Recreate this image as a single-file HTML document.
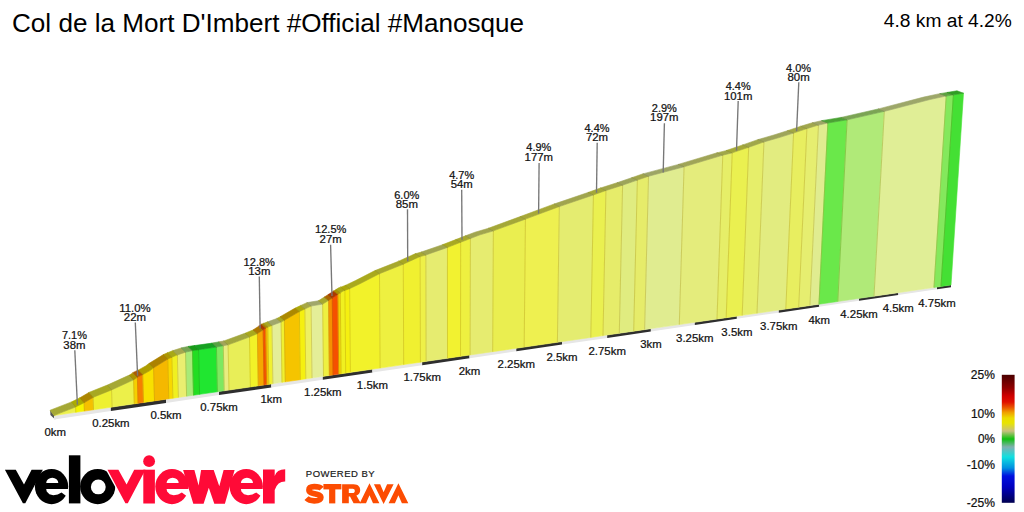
<!DOCTYPE html>
<html><head><meta charset="utf-8"><style>
html,body{margin:0;padding:0;background:#fff;}
body{width:1024px;height:512px;overflow:hidden;position:relative;}
svg{position:absolute;left:0;top:0;font-family:"Liberation Sans",sans-serif;}
</style></head><body>
<svg width="1024" height="512" viewBox="0 0 1024 512">
<defs><linearGradient id="lg" x1="0" y1="374.8" x2="0" y2="502.8" gradientUnits="userSpaceOnUse">
<stop offset="0.0000" stop-color="#4a0000"/>
<stop offset="0.0484" stop-color="#6a0000"/>
<stop offset="0.1031" stop-color="#900000"/>
<stop offset="0.1656" stop-color="#d00000"/>
<stop offset="0.2125" stop-color="#e01000"/>
<stop offset="0.2516" stop-color="#e85000"/>
<stop offset="0.2945" stop-color="#f0a000"/>
<stop offset="0.3375" stop-color="#ecdc00"/>
<stop offset="0.3766" stop-color="#e8e400"/>
<stop offset="0.4391" stop-color="#c8c080"/>
<stop offset="0.5016" stop-color="#10c010"/>
<stop offset="0.5641" stop-color="#80b0b0"/>
<stop offset="0.6422" stop-color="#10e0e0"/>
<stop offset="0.7281" stop-color="#0090e0"/>
<stop offset="0.7906" stop-color="#0010e0"/>
<stop offset="0.8766" stop-color="#0000c0"/>
<stop offset="1.0000" stop-color="#000050"/>
</linearGradient></defs>
<text x="12" y="32" font-size="26.1" fill="#000">Col de la Mort D'Imbert #Official #Manosque</text>
<text x="1011.8" y="27.2" font-size="19.2" fill="#000" text-anchor="end">4.8 km at 4.2%</text>
<polygon points="50.20,410.10 54.20,415.50 55.20,419.60 50.40,415.00" fill="#555"/>
<polygon points="54.00,415.50 110.90,407.22 110.90,411.02 54.00,419.40" fill="#e6e6e6"/>
<polygon points="110.90,407.22 166.00,399.20 166.00,402.90 110.90,411.02" fill="#2e2e2e"/>
<polygon points="166.00,399.20 219.00,391.49 219.00,395.10 166.00,402.90" fill="#e6e6e6"/>
<polygon points="219.00,391.49 271.30,383.88 271.30,387.40 219.00,395.10" fill="#2e2e2e"/>
<polygon points="271.30,383.88 322.80,376.39 322.80,379.81 271.30,387.40" fill="#e6e6e6"/>
<polygon points="322.80,376.39 372.40,369.17 372.40,372.50 322.80,379.81" fill="#2e2e2e"/>
<polygon points="372.40,369.17 422.20,361.93 422.20,365.17 372.40,372.50" fill="#e6e6e6"/>
<polygon points="422.20,361.93 469.50,355.04 469.50,358.20 422.20,365.17" fill="#2e2e2e"/>
<polygon points="469.50,355.04 516.30,348.24 516.30,351.31 469.50,358.20" fill="#e6e6e6"/>
<polygon points="516.30,348.24 562.00,341.59 562.00,344.58 516.30,351.31" fill="#2e2e2e"/>
<polygon points="562.00,341.59 607.20,335.01 607.20,337.92 562.00,344.58" fill="#e6e6e6"/>
<polygon points="607.20,335.01 650.90,328.65 650.90,331.49 607.20,337.92" fill="#2e2e2e"/>
<polygon points="650.90,328.65 694.80,322.26 694.80,325.02 650.90,331.49" fill="#e6e6e6"/>
<polygon points="694.80,322.26 736.90,316.14 736.90,318.82 694.80,325.02" fill="#2e2e2e"/>
<polygon points="736.90,316.14 778.80,310.04 778.80,312.65 736.90,318.82" fill="#e6e6e6"/>
<polygon points="778.80,310.04 819.20,304.16 819.20,306.70 778.80,312.65" fill="#2e2e2e"/>
<polygon points="819.20,304.16 859.00,298.37 859.00,300.84 819.20,306.70" fill="#e6e6e6"/>
<polygon points="859.00,298.37 898.30,292.65 898.30,295.05 859.00,300.84" fill="#2e2e2e"/>
<polygon points="898.30,292.65 937.00,287.02 937.00,289.35 898.30,295.05" fill="#e6e6e6"/>
<polygon points="937.00,287.02 951.00,284.99 951.00,287.29 937.00,289.35" fill="#2e2e2e"/>
<polygon points="54.00,415.50 75.80,412.33 75.62,406.97 60.00,413.10 54.00,415.50" fill="#ecf04c" stroke="#ecf04c" stroke-width="0.6" stroke-linejoin="round"/>
<polygon points="75.80,412.33 84.40,411.08 84.13,402.74 75.80,406.90 75.62,406.97" fill="#f5f500" stroke="#f5f500" stroke-width="0.6" stroke-linejoin="round"/>
<polygon points="84.40,411.08 93.50,409.75 93.10,397.43 84.40,402.60 84.13,402.74" fill="#f5c000" stroke="#f5c000" stroke-width="0.6" stroke-linejoin="round"/>
<polygon points="93.50,409.75 112.10,407.05 111.58,389.91 93.50,397.20 93.10,397.43" fill="#eef030" stroke="#eef030" stroke-width="0.6" stroke-linejoin="round"/>
<polygon points="112.10,407.05 134.30,403.82 133.62,379.81 112.10,389.70 111.58,389.91" fill="#ecf04a" stroke="#ecf04a" stroke-width="0.6" stroke-linejoin="round"/>
<polygon points="134.30,403.82 138.10,403.26 137.37,377.32 134.30,379.50 133.62,379.81" fill="#f5d000" stroke="#f5d000" stroke-width="0.6" stroke-linejoin="round"/>
<polygon points="138.10,403.26 143.50,402.48 142.73,374.62 138.10,376.80 137.37,377.32" fill="#f58000" stroke="#f58000" stroke-width="0.6" stroke-linejoin="round"/>
<polygon points="143.50,402.48 154.50,400.88 153.62,367.86 150.00,370.60 143.40,374.30 142.73,374.62" fill="#f8e000" stroke="#f8e000" stroke-width="0.6" stroke-linejoin="round"/>
<polygon points="154.50,400.88 168.80,398.80 167.79,359.03 153.70,367.80 153.62,367.86" fill="#f5b800" stroke="#f5b800" stroke-width="0.6" stroke-linejoin="round"/>
<polygon points="168.80,398.80 172.90,398.20 171.88,357.22 168.00,358.90 167.79,359.03" fill="#f8d800" stroke="#f8d800" stroke-width="0.6" stroke-linejoin="round"/>
<polygon points="172.90,398.20 178.40,397.40 177.36,354.94 176.30,355.30 171.88,357.22" fill="#f0f020" stroke="#f0f020" stroke-width="0.6" stroke-linejoin="round"/>
<polygon points="178.40,397.40 186.60,396.21 185.56,352.18 177.36,354.94" fill="#eaee70" stroke="#eaee70" stroke-width="0.6" stroke-linejoin="round"/>
<polygon points="186.60,396.21 193.50,395.20 192.47,350.65 185.80,352.10 185.56,352.18" fill="#a8ea78" stroke="#a8ea78" stroke-width="0.6" stroke-linejoin="round"/>
<polygon points="193.50,395.20 199.60,394.32 198.60,349.73 192.70,350.60 192.47,350.65" fill="#22dd22" stroke="#22dd22" stroke-width="0.6" stroke-linejoin="round"/>
<polygon points="199.60,394.32 217.40,391.73 216.46,347.02 215.00,347.30 198.80,349.70 198.60,349.73" fill="#20e630" stroke="#20e630" stroke-width="0.6" stroke-linejoin="round"/>
<polygon points="217.40,391.73 224.20,390.74 223.29,345.71 222.80,345.80 216.46,347.02" fill="#7ee860" stroke="#7ee860" stroke-width="0.6" stroke-linejoin="round"/>
<polygon points="224.20,390.74 229.00,390.04 228.10,344.84 223.29,345.71" fill="#e8ec80" stroke="#e8ec80" stroke-width="0.6" stroke-linejoin="round"/>
<polygon points="229.00,390.04 250.40,386.92 249.50,336.92 248.60,337.30 228.30,344.80 228.10,344.84" fill="#e8ee58" stroke="#e8ee58" stroke-width="0.6" stroke-linejoin="round"/>
<polygon points="250.40,386.92 258.30,385.77 257.40,333.57 257.20,333.70 249.50,336.92" fill="#f2f228" stroke="#f2f228" stroke-width="0.6" stroke-linejoin="round"/>
<polygon points="258.30,385.77 264.10,384.93 263.18,329.83 262.70,330.20 257.40,333.57" fill="#f5a800" stroke="#f5a800" stroke-width="0.6" stroke-linejoin="round"/>
<polygon points="264.10,384.93 266.60,384.57 265.66,327.90 263.18,329.83" fill="#f55000" stroke="#f55000" stroke-width="0.6" stroke-linejoin="round"/>
<polygon points="266.60,384.57 268.80,384.25 267.87,327.01 265.80,327.80 265.66,327.90" fill="#f5c000" stroke="#f5c000" stroke-width="0.6" stroke-linejoin="round"/>
<polygon points="268.80,384.25 272.90,383.65 271.97,325.46 270.00,326.20 267.87,327.01" fill="#f0f030" stroke="#f0f030" stroke-width="0.6" stroke-linejoin="round"/>
<polygon points="272.90,383.65 282.00,382.33 281.09,322.04 271.97,325.46" fill="#e4ee98" stroke="#e4ee98" stroke-width="0.6" stroke-linejoin="round"/>
<polygon points="282.00,382.33 285.30,381.85 284.39,320.28 284.00,320.50 281.20,322.00 281.09,322.04" fill="#f0f030" stroke="#f0f030" stroke-width="0.6" stroke-linejoin="round"/>
<polygon points="285.30,381.85 300.30,379.66 299.38,311.57 284.39,320.28" fill="#f5c400" stroke="#f5c400" stroke-width="0.6" stroke-linejoin="round"/>
<polygon points="300.30,379.66 305.80,378.86 304.89,308.96 299.50,311.50 299.38,311.57" fill="#f5f010" stroke="#f5f010" stroke-width="0.6" stroke-linejoin="round"/>
<polygon points="305.80,378.86 312.00,377.96 311.11,306.04 304.89,308.96" fill="#eef060" stroke="#eef060" stroke-width="0.6" stroke-linejoin="round"/>
<polygon points="312.00,377.96 323.50,376.29 322.68,304.10 311.20,306.00 311.11,306.04" fill="#e4ee98" stroke="#e4ee98" stroke-width="0.6" stroke-linejoin="round"/>
<polygon points="323.50,376.29 329.40,375.43 328.59,300.41 322.70,304.10 322.68,304.10" fill="#eef040" stroke="#eef040" stroke-width="0.6" stroke-linejoin="round"/>
<polygon points="329.40,375.43 333.10,374.89 332.29,298.01 328.60,300.40 328.59,300.41" fill="#f59000" stroke="#f59000" stroke-width="0.6" stroke-linejoin="round"/>
<polygon points="333.10,374.89 338.70,374.08 337.90,294.38 335.70,295.80 332.29,298.01" fill="#f55000" stroke="#f55000" stroke-width="0.6" stroke-linejoin="round"/>
<polygon points="338.70,374.08 341.10,373.73 340.31,292.83 337.90,294.38" fill="#f5d000" stroke="#f5d000" stroke-width="0.6" stroke-linejoin="round"/>
<polygon points="341.10,373.73 345.70,373.06 344.92,290.39 343.00,291.10 340.31,292.83" fill="#f0f020" stroke="#f0f020" stroke-width="0.6" stroke-linejoin="round"/>
<polygon points="345.70,373.06 350.40,372.37 349.65,288.63 349.40,288.75 344.92,290.39" fill="#f5f010" stroke="#f5f010" stroke-width="0.6" stroke-linejoin="round"/>
<polygon points="350.40,372.37 380.10,368.05 379.51,273.70 379.00,273.90 360.00,283.70 349.65,288.63" fill="#f2f22a" stroke="#f2f22a" stroke-width="0.6" stroke-linejoin="round"/>
<polygon points="380.10,368.05 403.70,364.62 403.28,264.15 402.50,264.50 379.51,273.70" fill="#eef040" stroke="#eef040" stroke-width="0.6" stroke-linejoin="round"/>
<polygon points="403.70,364.62 420.40,362.19 420.12,256.59 419.70,256.70 403.28,264.15" fill="#f0f030" stroke="#f0f030" stroke-width="0.6" stroke-linejoin="round"/>
<polygon points="420.40,362.19 426.10,361.36 425.87,254.97 425.20,255.20 420.12,256.59" fill="#eef048" stroke="#eef048" stroke-width="0.6" stroke-linejoin="round"/>
<polygon points="426.10,361.36 447.50,358.25 447.48,247.41 425.87,254.97" fill="#e6ec70" stroke="#e6ec70" stroke-width="0.6" stroke-linejoin="round"/>
<polygon points="447.50,358.25 460.50,356.35 460.66,242.28 447.80,247.30 447.48,247.41" fill="#f2f230" stroke="#f2f230" stroke-width="0.6" stroke-linejoin="round"/>
<polygon points="460.50,356.35 470.10,354.96 470.41,238.48 469.70,238.75 460.66,242.28" fill="#eef040" stroke="#eef040" stroke-width="0.6" stroke-linejoin="round"/>
<polygon points="470.10,354.96 492.70,351.67 493.38,230.85 492.70,231.10 480.00,234.80 470.41,238.48" fill="#e6ec70" stroke="#e6ec70" stroke-width="0.6" stroke-linejoin="round"/>
<polygon points="492.70,351.67 524.20,347.09 525.45,219.12 524.70,219.40 493.38,230.85" fill="#eaee50" stroke="#eaee50" stroke-width="0.6" stroke-linejoin="round"/>
<polygon points="524.20,347.09 557.40,342.26 559.32,206.55 558.30,206.90 525.45,219.12" fill="#eef050" stroke="#eef050" stroke-width="0.6" stroke-linejoin="round"/>
<polygon points="557.40,342.26 590.80,337.40 593.45,194.93 592.70,195.20 559.32,206.55" fill="#e4ec70" stroke="#e4ec70" stroke-width="0.6" stroke-linejoin="round"/>
<polygon points="590.80,337.40 603.00,335.62 605.93,190.49 605.90,190.50 593.45,194.93" fill="#eaf050" stroke="#eaf050" stroke-width="0.6" stroke-linejoin="round"/>
<polygon points="603.00,335.62 619.30,333.25 622.61,185.16 605.93,190.49" fill="#e6ec6a" stroke="#e6ec6a" stroke-width="0.6" stroke-linejoin="round"/>
<polygon points="619.30,333.25 633.70,331.15 637.36,180.09 623.10,185.00 622.61,185.16" fill="#e0ec80" stroke="#e0ec80" stroke-width="0.6" stroke-linejoin="round"/>
<polygon points="633.70,331.15 644.60,329.57 648.54,176.28 648.10,176.40 637.36,180.09" fill="#e6ec6a" stroke="#e6ec6a" stroke-width="0.6" stroke-linejoin="round"/>
<polygon points="644.60,329.57 679.30,324.52 684.07,166.77 683.30,167.00 648.54,176.28" fill="#e0ec90" stroke="#e0ec90" stroke-width="0.6" stroke-linejoin="round"/>
<polygon points="679.30,324.52 717.00,319.03 722.77,155.18 722.30,155.30 684.07,166.77" fill="#e4ec7c" stroke="#e4ec7c" stroke-width="0.6" stroke-linejoin="round"/>
<polygon points="717.00,319.03 726.20,317.69 732.21,152.83 731.70,153.00 722.77,155.18" fill="#e6ee68" stroke="#e6ee68" stroke-width="0.6" stroke-linejoin="round"/>
<polygon points="726.20,317.69 742.20,315.37 748.68,147.27 732.21,152.83" fill="#eaf050" stroke="#eaf050" stroke-width="0.6" stroke-linejoin="round"/>
<polygon points="742.20,315.37 757.00,313.21 763.94,141.94 763.75,142.00 748.90,147.20 748.68,147.27" fill="#e6ee6a" stroke="#e6ee6a" stroke-width="0.6" stroke-linejoin="round"/>
<polygon points="757.00,313.21 785.80,309.02 793.60,133.03 793.40,133.10 780.00,137.30 763.94,141.94" fill="#e2ec80" stroke="#e2ec80" stroke-width="0.6" stroke-linejoin="round"/>
<polygon points="785.80,309.02 798.70,307.15 806.92,128.59 793.60,133.03" fill="#e8ee60" stroke="#e8ee60" stroke-width="0.6" stroke-linejoin="round"/>
<polygon points="798.70,307.15 809.90,305.52 818.47,125.12 817.70,125.30 807.50,128.40 806.92,128.59" fill="#e6ee70" stroke="#e6ee70" stroke-width="0.6" stroke-linejoin="round"/>
<polygon points="809.90,305.52 819.00,304.19 827.83,123.00 827.80,123.00 818.47,125.12" fill="#e0ec90" stroke="#e0ec90" stroke-width="0.6" stroke-linejoin="round"/>
<polygon points="819.00,304.19 837.80,301.46 847.10,119.83 827.83,123.00" fill="#6ae84a" stroke="#6ae84a" stroke-width="0.6" stroke-linejoin="round"/>
<polygon points="837.80,301.46 874.00,296.19 884.34,111.35 847.30,119.80 847.10,119.83" fill="#b0ea78" stroke="#b0ea78" stroke-width="0.6" stroke-linejoin="round"/>
<polygon points="874.00,296.19 934.00,287.46 946.23,96.06 944.80,96.30 930.00,99.50 884.80,111.25 884.34,111.35" fill="#e0ee96" stroke="#e0ee96" stroke-width="0.6" stroke-linejoin="round"/>
<polygon points="934.00,287.46 941.00,286.44 953.42,94.87 946.23,96.06" fill="#84e85c" stroke="#84e85c" stroke-width="0.6" stroke-linejoin="round"/>
<polygon points="941.00,286.44 951.00,284.99 963.50,93.20 953.42,94.87" fill="#44e034" stroke="#44e034" stroke-width="0.6" stroke-linejoin="round"/>
<line x1="75.80" y1="412.33" x2="75.62" y2="406.97" stroke="#cec215" stroke-width="0.7"/>
<line x1="84.40" y1="411.08" x2="84.13" y2="402.74" stroke="#d3ae00" stroke-width="0.7"/>
<line x1="93.50" y1="409.75" x2="93.10" y2="397.43" stroke="#d0ad0d" stroke-width="0.7"/>
<line x1="112.10" y1="407.05" x2="111.58" y2="389.91" stroke="#ccc022" stroke-width="0.7"/>
<line x1="134.30" y1="403.82" x2="133.62" y2="379.81" stroke="#ceb314" stroke-width="0.7"/>
<line x1="138.10" y1="403.26" x2="137.37" y2="377.32" stroke="#d38600" stroke-width="0.7"/>
<line x1="143.50" y1="402.48" x2="142.73" y2="374.62" stroke="#d48d00" stroke-width="0.7"/>
<line x1="154.50" y1="400.88" x2="153.62" y2="367.86" stroke="#d4a300" stroke-width="0.7"/>
<line x1="168.80" y1="398.80" x2="167.79" y2="359.03" stroke="#d4a000" stroke-width="0.7"/>
<line x1="172.90" y1="398.20" x2="171.88" y2="357.22" stroke="#d2b609" stroke-width="0.7"/>
<line x1="178.40" y1="397.40" x2="177.36" y2="354.94" stroke="#ccbf28" stroke-width="0.7"/>
<line x1="186.60" y1="396.21" x2="185.56" y2="352.18" stroke="#adbd40" stroke-width="0.7"/>
<line x1="193.50" y1="395.20" x2="192.47" y2="350.65" stroke="#57b62a" stroke-width="0.7"/>
<line x1="199.60" y1="394.32" x2="198.60" y2="349.73" stroke="#1cb517" stroke-width="0.7"/>
<line x1="217.40" y1="391.73" x2="216.46" y2="347.02" stroke="#44b928" stroke-width="0.7"/>
<line x1="224.20" y1="390.74" x2="223.29" y2="345.71" stroke="#9abb3e" stroke-width="0.7"/>
<line x1="229.00" y1="390.04" x2="228.10" y2="344.84" stroke="#c8be3b" stroke-width="0.7"/>
<line x1="250.40" y1="386.92" x2="249.50" y2="336.92" stroke="#ccc023" stroke-width="0.7"/>
<line x1="258.30" y1="385.77" x2="257.40" y2="333.57" stroke="#d2a40b" stroke-width="0.7"/>
<line x1="264.10" y1="384.93" x2="263.18" y2="329.83" stroke="#d36300" stroke-width="0.7"/>
<line x1="266.60" y1="384.57" x2="265.66" y2="327.90" stroke="#d36d00" stroke-width="0.7"/>
<line x1="268.80" y1="384.25" x2="267.87" y2="327.01" stroke="#d0ad0d" stroke-width="0.7"/>
<line x1="272.90" y1="383.65" x2="271.97" y2="325.46" stroke="#c9bf37" stroke-width="0.7"/>
<line x1="282.00" y1="382.33" x2="281.09" y2="322.04" stroke="#c9bf37" stroke-width="0.7"/>
<line x1="285.30" y1="381.85" x2="284.39" y2="320.28" stroke="#d0ae0d" stroke-width="0.7"/>
<line x1="300.30" y1="379.66" x2="299.38" y2="311.57" stroke="#d3ae04" stroke-width="0.7"/>
<line x1="305.80" y1="378.86" x2="304.89" y2="308.96" stroke="#d0c01f" stroke-width="0.7"/>
<line x1="312.00" y1="377.96" x2="311.11" y2="306.04" stroke="#c8bf44" stroke-width="0.7"/>
<line x1="323.50" y1="376.29" x2="322.68" y2="304.10" stroke="#c8bf3b" stroke-width="0.7"/>
<line x1="329.40" y1="375.43" x2="328.59" y2="300.41" stroke="#d09a12" stroke-width="0.7"/>
<line x1="333.10" y1="374.89" x2="332.29" y2="298.01" stroke="#d35a00" stroke-width="0.7"/>
<line x1="338.70" y1="374.08" x2="337.90" y2="294.38" stroke="#d37300" stroke-width="0.7"/>
<line x1="341.10" y1="373.73" x2="340.31" y2="292.83" stroke="#d0b309" stroke-width="0.7"/>
<line x1="345.70" y1="373.06" x2="344.92" y2="290.39" stroke="#d0c00d" stroke-width="0.7"/>
<line x1="350.40" y1="372.37" x2="349.65" y2="288.63" stroke="#d2c110" stroke-width="0.7"/>
<line x1="380.10" y1="368.05" x2="379.51" y2="273.70" stroke="#cec11d" stroke-width="0.7"/>
<line x1="403.70" y1="364.62" x2="403.28" y2="264.15" stroke="#cec01f" stroke-width="0.7"/>
<line x1="420.40" y1="362.19" x2="420.12" y2="256.59" stroke="#cec021" stroke-width="0.7"/>
<line x1="426.10" y1="361.36" x2="425.87" y2="254.97" stroke="#c9be33" stroke-width="0.7"/>
<line x1="447.50" y1="358.25" x2="447.48" y2="247.41" stroke="#cbbf2c" stroke-width="0.7"/>
<line x1="460.50" y1="356.35" x2="460.66" y2="242.28" stroke="#cec11f" stroke-width="0.7"/>
<line x1="470.10" y1="354.96" x2="470.41" y2="238.48" stroke="#c9be30" stroke-width="0.7"/>
<line x1="492.70" y1="351.67" x2="493.38" y2="230.85" stroke="#c8be35" stroke-width="0.7"/>
<line x1="524.20" y1="347.09" x2="525.45" y2="219.12" stroke="#cbbf2c" stroke-width="0.7"/>
<line x1="557.40" y1="342.26" x2="559.32" y2="206.55" stroke="#c8be35" stroke-width="0.7"/>
<line x1="590.80" y1="337.40" x2="593.45" y2="194.93" stroke="#c7be35" stroke-width="0.7"/>
<line x1="603.00" y1="335.62" x2="605.93" y2="190.49" stroke="#c8be33" stroke-width="0.7"/>
<line x1="619.30" y1="333.25" x2="622.61" y2="185.16" stroke="#c3bd40" stroke-width="0.7"/>
<line x1="633.70" y1="331.15" x2="637.36" y2="180.09" stroke="#c3bd40" stroke-width="0.7"/>
<line x1="644.60" y1="329.57" x2="648.54" y2="176.28" stroke="#c3bd45" stroke-width="0.7"/>
<line x1="679.30" y1="324.52" x2="684.07" y2="166.77" stroke="#c2bd4a" stroke-width="0.7"/>
<line x1="717.00" y1="319.03" x2="722.77" y2="155.18" stroke="#c5be3f" stroke-width="0.7"/>
<line x1="726.20" y1="317.69" x2="732.21" y2="152.83" stroke="#c8bf33" stroke-width="0.7"/>
<line x1="742.20" y1="315.37" x2="748.68" y2="147.27" stroke="#c8bf33" stroke-width="0.7"/>
<line x1="757.00" y1="313.21" x2="763.94" y2="141.94" stroke="#c4be40" stroke-width="0.7"/>
<line x1="785.80" y1="309.02" x2="793.60" y2="133.03" stroke="#c5be3e" stroke-width="0.7"/>
<line x1="798.70" y1="307.15" x2="806.92" y2="128.59" stroke="#c7be39" stroke-width="0.7"/>
<line x1="809.90" y1="305.52" x2="818.47" y2="125.12" stroke="#c3be46" stroke-width="0.7"/>
<line x1="819.00" y1="304.19" x2="827.83" y2="123.00" stroke="#8ebb3c" stroke-width="0.7"/>
<line x1="837.80" y1="301.46" x2="847.10" y2="119.83" stroke="#79ba35" stroke-width="0.7"/>
<line x1="874.00" y1="296.19" x2="884.34" y2="111.35" stroke="#acbd4a" stroke-width="0.7"/>
<line x1="934.00" y1="287.46" x2="946.23" y2="96.06" stroke="#99bc43" stroke-width="0.7"/>
<line x1="941.00" y1="286.44" x2="953.42" y2="94.87" stroke="#56b628" stroke-width="0.7"/>
<polygon points="54.00,415.50 60.00,413.10 75.62,406.97 71.53,401.91 55.98,407.94 50.00,410.30" fill="#a5a835" stroke="#a5a835" stroke-width="0.6" stroke-linejoin="round"/>
<polygon points="75.62,406.97 75.80,406.90 84.13,402.74 80.00,397.73 71.71,401.84 71.53,401.91" fill="#acac00" stroke="#acac00" stroke-width="0.6" stroke-linejoin="round"/>
<polygon points="84.13,402.74 84.40,402.60 93.10,397.43 88.94,392.48 80.27,397.59 80.00,397.73" fill="#ac8600" stroke="#ac8600" stroke-width="0.6" stroke-linejoin="round"/>
<polygon points="93.10,397.43 93.50,397.20 111.58,389.91 107.34,385.07 89.34,392.25 88.94,392.48" fill="#a7a822" stroke="#a7a822" stroke-width="0.6" stroke-linejoin="round"/>
<polygon points="111.58,389.91 112.10,389.70 133.62,379.81 129.29,375.11 107.86,384.86 107.34,385.07" fill="#a5a834" stroke="#a5a834" stroke-width="0.6" stroke-linejoin="round"/>
<polygon points="133.62,379.81 134.30,379.50 137.37,377.32 133.02,372.64 129.97,374.80 129.29,375.11" fill="#ac9200" stroke="#ac9200" stroke-width="0.6" stroke-linejoin="round"/>
<polygon points="137.37,377.32 138.10,376.80 142.73,374.62 138.36,369.97 133.75,372.13 133.02,372.64" fill="#ac5a00" stroke="#ac5a00" stroke-width="0.6" stroke-linejoin="round"/>
<polygon points="142.73,374.62 143.40,374.30 150.00,370.60 153.62,367.86 149.22,363.30 145.60,366.00 139.03,369.66 138.36,369.97" fill="#ae9d00" stroke="#ae9d00" stroke-width="0.6" stroke-linejoin="round"/>
<polygon points="153.62,367.86 153.70,367.80 167.79,359.03 163.37,354.61 149.30,363.24 149.22,363.30" fill="#ac8100" stroke="#ac8100" stroke-width="0.6" stroke-linejoin="round"/>
<polygon points="167.79,359.03 168.00,358.90 171.88,357.22 167.45,352.84 163.58,354.48 163.37,354.61" fill="#ae9700" stroke="#ae9700" stroke-width="0.6" stroke-linejoin="round"/>
<polygon points="171.88,357.22 176.30,355.30 177.36,354.94 172.93,350.62 171.87,350.96 167.45,352.84" fill="#a8a816" stroke="#a8a816" stroke-width="0.6" stroke-linejoin="round"/>
<polygon points="177.36,354.94 185.56,352.18 181.11,347.94 172.93,350.62" fill="#a4a74e" stroke="#a4a74e" stroke-width="0.6" stroke-linejoin="round"/>
<polygon points="185.56,352.18 185.80,352.10 192.47,350.65 188.02,346.47 181.36,347.86 181.11,347.94" fill="#76a454" stroke="#76a454" stroke-width="0.6" stroke-linejoin="round"/>
<polygon points="192.47,350.65 192.70,350.60 198.60,349.73 194.13,345.62 188.25,346.43 188.02,346.47" fill="#189b18" stroke="#189b18" stroke-width="0.6" stroke-linejoin="round"/>
<polygon points="198.60,349.73 198.80,349.70 215.00,347.30 216.46,347.02 211.98,343.08 210.52,343.35 194.34,345.59 194.13,345.62" fill="#16a122" stroke="#16a122" stroke-width="0.6" stroke-linejoin="round"/>
<polygon points="216.46,347.02 222.80,345.80 223.29,345.71 218.79,341.84 218.31,341.93 211.98,343.08" fill="#58a243" stroke="#58a243" stroke-width="0.6" stroke-linejoin="round"/>
<polygon points="223.29,345.71 228.10,344.84 223.60,341.02 218.79,341.84" fill="#a2a55a" stroke="#a2a55a" stroke-width="0.6" stroke-linejoin="round"/>
<polygon points="228.10,344.84 228.30,344.80 248.60,337.30 249.50,336.92 245.07,333.22 244.17,333.59 223.80,340.98 223.60,341.02" fill="#a2a73e" stroke="#a2a73e" stroke-width="0.6" stroke-linejoin="round"/>
<polygon points="249.50,336.92 257.20,333.70 257.40,333.57 253.00,329.91 252.80,330.04 245.07,333.22" fill="#a9a91c" stroke="#a9a91c" stroke-width="0.6" stroke-linejoin="round"/>
<polygon points="257.40,333.57 262.70,330.20 263.18,329.83 258.80,326.20 258.32,326.56 253.00,329.91" fill="#ac7600" stroke="#ac7600" stroke-width="0.6" stroke-linejoin="round"/>
<polygon points="263.18,329.83 265.66,327.90 261.30,324.28 258.80,326.20" fill="#ac3800" stroke="#ac3800" stroke-width="0.6" stroke-linejoin="round"/>
<polygon points="265.66,327.90 265.80,327.80 267.87,327.01 263.51,323.40 261.43,324.18 261.30,324.28" fill="#ac8600" stroke="#ac8600" stroke-width="0.6" stroke-linejoin="round"/>
<polygon points="267.87,327.01 270.00,326.20 271.97,325.46 267.63,321.87 265.65,322.60 263.51,323.40" fill="#a8a822" stroke="#a8a822" stroke-width="0.6" stroke-linejoin="round"/>
<polygon points="271.97,325.46 281.09,322.04 276.78,318.50 267.63,321.87" fill="#a0a76a" stroke="#a0a76a" stroke-width="0.6" stroke-linejoin="round"/>
<polygon points="281.09,322.04 281.20,322.00 284.00,320.50 284.39,320.28 280.09,316.75 279.70,316.97 276.89,318.46 276.78,318.50" fill="#a8a822" stroke="#a8a822" stroke-width="0.6" stroke-linejoin="round"/>
<polygon points="284.39,320.28 299.38,311.57 295.14,308.12 280.09,316.75" fill="#ac8900" stroke="#ac8900" stroke-width="0.6" stroke-linejoin="round"/>
<polygon points="299.38,311.57 299.50,311.50 304.89,308.96 300.67,305.54 295.26,308.05 295.14,308.12" fill="#aca80b" stroke="#aca80b" stroke-width="0.6" stroke-linejoin="round"/>
<polygon points="304.89,308.96 311.11,306.04 306.90,302.65 300.67,305.54" fill="#a7a843" stroke="#a7a843" stroke-width="0.6" stroke-linejoin="round"/>
<polygon points="311.11,306.04 311.20,306.00 322.68,304.10 318.42,300.76 306.99,302.61 306.90,302.65" fill="#a0a76a" stroke="#a0a76a" stroke-width="0.6" stroke-linejoin="round"/>
<polygon points="322.68,304.10 322.70,304.10 328.59,300.41 324.30,297.10 318.44,300.76 318.42,300.76" fill="#a7a82d" stroke="#a7a82d" stroke-width="0.6" stroke-linejoin="round"/>
<polygon points="328.59,300.41 328.60,300.40 332.29,298.01 327.99,294.71 324.31,297.09 324.30,297.10" fill="#ac6500" stroke="#ac6500" stroke-width="0.6" stroke-linejoin="round"/>
<polygon points="332.29,298.01 335.70,295.80 337.90,294.38 333.57,291.11 331.38,292.52 327.99,294.71" fill="#ac3800" stroke="#ac3800" stroke-width="0.6" stroke-linejoin="round"/>
<polygon points="337.90,294.38 340.31,292.83 335.96,289.58 333.57,291.11" fill="#ac9200" stroke="#ac9200" stroke-width="0.6" stroke-linejoin="round"/>
<polygon points="340.31,292.83 343.00,291.10 344.92,290.39 340.56,287.16 338.64,287.86 335.96,289.58" fill="#a8a816" stroke="#a8a816" stroke-width="0.6" stroke-linejoin="round"/>
<polygon points="344.92,290.39 349.40,288.75 349.65,288.63 345.26,285.42 345.01,285.54 340.56,287.16" fill="#aca80b" stroke="#aca80b" stroke-width="0.6" stroke-linejoin="round"/>
<polygon points="349.65,288.63 360.00,283.70 379.00,273.90 379.51,273.70 374.98,270.62 374.48,270.82 355.56,280.54 345.26,285.42" fill="#a9a91d" stroke="#a9a91d" stroke-width="0.6" stroke-linejoin="round"/>
<polygon points="379.51,273.70 402.50,264.50 403.28,264.15 398.64,261.18 397.86,261.54 374.98,270.62" fill="#a7a82d" stroke="#a7a82d" stroke-width="0.6" stroke-linejoin="round"/>
<polygon points="403.28,264.15 419.70,256.70 420.12,256.59 415.40,253.70 414.98,253.82 398.64,261.18" fill="#a8a822" stroke="#a8a822" stroke-width="0.6" stroke-linejoin="round"/>
<polygon points="420.12,256.59 425.20,255.20 425.87,254.97 421.13,252.11 420.46,252.34 415.40,253.70" fill="#a7a832" stroke="#a7a832" stroke-width="0.6" stroke-linejoin="round"/>
<polygon points="425.87,254.97 447.48,247.41 442.63,244.66 421.13,252.11" fill="#a1a54e" stroke="#a1a54e" stroke-width="0.6" stroke-linejoin="round"/>
<polygon points="447.48,247.41 447.80,247.30 460.66,242.28 455.75,239.59 442.95,244.55 442.63,244.66" fill="#a9a922" stroke="#a9a922" stroke-width="0.6" stroke-linejoin="round"/>
<polygon points="460.66,242.28 469.70,238.75 470.41,238.48 465.45,235.83 464.75,236.10 455.75,239.59" fill="#a7a82d" stroke="#a7a82d" stroke-width="0.6" stroke-linejoin="round"/>
<polygon points="470.41,238.48 480.00,234.80 492.70,231.10 493.38,230.85 488.33,228.27 487.65,228.52 475.00,232.20 465.45,235.83" fill="#a1a54e" stroke="#a1a54e" stroke-width="0.6" stroke-linejoin="round"/>
<polygon points="493.38,230.85 524.70,219.40 525.45,219.12 520.27,216.58 519.52,216.85 488.33,228.27" fill="#a4a738" stroke="#a4a738" stroke-width="0.6" stroke-linejoin="round"/>
<polygon points="525.45,219.12 558.30,206.90 559.32,206.55 554.00,204.05 552.98,204.40 520.27,216.58" fill="#a7a838" stroke="#a7a838" stroke-width="0.6" stroke-linejoin="round"/>
<polygon points="559.32,206.55 592.70,195.20 593.45,194.93 587.98,192.47 587.24,192.74 554.00,204.05" fill="#a0a54e" stroke="#a0a54e" stroke-width="0.6" stroke-linejoin="round"/>
<polygon points="593.45,194.93 605.90,190.50 605.93,190.49 600.42,188.04 600.39,188.05 587.98,192.47" fill="#a4a838" stroke="#a4a838" stroke-width="0.6" stroke-linejoin="round"/>
<polygon points="605.93,190.49 622.61,185.16 617.03,182.73 600.42,188.04" fill="#a1a54a" stroke="#a1a54a" stroke-width="0.6" stroke-linejoin="round"/>
<polygon points="622.61,185.16 623.10,185.00 637.36,180.09 631.72,177.69 617.52,182.58 617.03,182.73" fill="#9da55a" stroke="#9da55a" stroke-width="0.6" stroke-linejoin="round"/>
<polygon points="637.36,180.09 648.10,176.40 648.54,176.28 642.85,173.89 642.41,174.01 631.72,177.69" fill="#a1a54a" stroke="#a1a54a" stroke-width="0.6" stroke-linejoin="round"/>
<polygon points="648.54,176.28 683.30,167.00 684.07,166.77 678.24,164.42 677.47,164.65 642.85,173.89" fill="#9da565" stroke="#9da565" stroke-width="0.6" stroke-linejoin="round"/>
<polygon points="684.07,166.77 722.30,155.30 722.77,155.18 716.78,152.88 716.31,153.00 678.24,164.42" fill="#a0a557" stroke="#a0a557" stroke-width="0.6" stroke-linejoin="round"/>
<polygon points="722.77,155.18 731.70,153.00 732.21,152.83 726.20,150.52 725.69,150.70 716.78,152.88" fill="#a1a749" stroke="#a1a749" stroke-width="0.6" stroke-linejoin="round"/>
<polygon points="732.21,152.83 748.68,147.27 742.63,144.96 726.20,150.52" fill="#a4a838" stroke="#a4a838" stroke-width="0.6" stroke-linejoin="round"/>
<polygon points="748.68,147.27 748.90,147.20 763.75,142.00 763.94,141.94 757.86,139.63 757.67,139.68 742.85,144.89 742.63,144.96" fill="#a1a74a" stroke="#a1a74a" stroke-width="0.6" stroke-linejoin="round"/>
<polygon points="763.94,141.94 780.00,137.30 793.40,133.10 793.60,133.03 787.46,130.70 787.26,130.77 773.88,134.98 757.86,139.63" fill="#9ea55a" stroke="#9ea55a" stroke-width="0.6" stroke-linejoin="round"/>
<polygon points="793.60,133.03 806.92,128.59 800.75,126.26 787.46,130.70" fill="#a2a743" stroke="#a2a743" stroke-width="0.6" stroke-linejoin="round"/>
<polygon points="806.92,128.59 807.50,128.40 817.70,125.30 818.47,125.12 812.27,122.79 811.51,122.96 801.33,126.07 800.75,126.26" fill="#a1a74e" stroke="#a1a74e" stroke-width="0.6" stroke-linejoin="round"/>
<polygon points="818.47,125.12 827.80,123.00 827.83,123.00 821.61,120.65 821.58,120.66 812.27,122.79" fill="#9da565" stroke="#9da565" stroke-width="0.6" stroke-linejoin="round"/>
<polygon points="827.83,123.00 847.10,119.83 840.84,117.48 821.61,120.65" fill="#4aa234" stroke="#4aa234" stroke-width="0.6" stroke-linejoin="round"/>
<polygon points="847.10,119.83 847.30,119.80 884.34,111.35 878.01,108.99 841.04,117.45 840.84,117.48" fill="#7ba454" stroke="#7ba454" stroke-width="0.6" stroke-linejoin="round"/>
<polygon points="884.34,111.35 884.80,111.25 930.00,99.50 944.80,96.30 946.23,96.06 939.76,93.67 938.34,93.91 923.57,97.11 878.46,108.88 878.01,108.99" fill="#9da769" stroke="#9da769" stroke-width="0.6" stroke-linejoin="round"/>
<polygon points="946.23,96.06 953.42,94.87 946.94,92.48 939.76,93.67" fill="#5ca240" stroke="#5ca240" stroke-width="0.6" stroke-linejoin="round"/>
<polygon points="953.42,94.87 963.50,93.20 957.00,90.80 946.94,92.48" fill="#309d24" stroke="#309d24" stroke-width="0.6" stroke-linejoin="round"/>
<line x1="75.62" y1="406.97" x2="71.53" y2="401.91" stroke="#8f9017" stroke-width="0.6"/>
<line x1="84.13" y1="402.74" x2="80.00" y2="397.73" stroke="#928200" stroke-width="0.6"/>
<line x1="93.10" y1="397.43" x2="88.94" y2="392.48" stroke="#90810e" stroke-width="0.6"/>
<line x1="111.58" y1="389.91" x2="107.34" y2="385.07" stroke="#8d8f24" stroke-width="0.6"/>
<line x1="133.62" y1="379.81" x2="129.29" y2="375.11" stroke="#8f8516" stroke-width="0.6"/>
<line x1="137.37" y1="377.32" x2="133.02" y2="372.64" stroke="#926400" stroke-width="0.6"/>
<line x1="142.73" y1="374.62" x2="138.36" y2="369.97" stroke="#926900" stroke-width="0.6"/>
<line x1="153.62" y1="367.86" x2="149.22" y2="363.30" stroke="#927900" stroke-width="0.6"/>
<line x1="167.79" y1="359.03" x2="163.37" y2="354.61" stroke="#927700" stroke-width="0.6"/>
<line x1="171.88" y1="357.22" x2="167.45" y2="352.84" stroke="#91880a" stroke-width="0.6"/>
<line x1="177.36" y1="354.94" x2="172.93" y2="350.62" stroke="#8d8e2b" stroke-width="0.6"/>
<line x1="185.56" y1="352.18" x2="181.11" y2="347.94" stroke="#788c45" stroke-width="0.6"/>
<line x1="192.47" y1="350.65" x2="188.02" y2="346.47" stroke="#3c882e" stroke-width="0.6"/>
<line x1="198.60" y1="349.73" x2="194.13" y2="345.62" stroke="#148618" stroke-width="0.6"/>
<line x1="216.46" y1="347.02" x2="211.98" y2="343.08" stroke="#2f892b" stroke-width="0.6"/>
<line x1="223.29" y1="345.71" x2="218.79" y2="341.84" stroke="#6b8b43" stroke-width="0.6"/>
<line x1="228.10" y1="344.84" x2="223.60" y2="341.02" stroke="#8a8d40" stroke-width="0.6"/>
<line x1="249.50" y1="336.92" x2="245.07" y2="333.22" stroke="#8d8f26" stroke-width="0.6"/>
<line x1="257.40" y1="333.57" x2="253.00" y2="329.91" stroke="#917a0c" stroke-width="0.6"/>
<line x1="263.18" y1="329.83" x2="258.80" y2="326.20" stroke="#924a00" stroke-width="0.6"/>
<line x1="265.66" y1="327.90" x2="261.30" y2="324.28" stroke="#925100" stroke-width="0.6"/>
<line x1="267.87" y1="327.01" x2="263.51" y2="323.40" stroke="#90810e" stroke-width="0.6"/>
<line x1="271.97" y1="325.46" x2="267.63" y2="321.87" stroke="#8b8e3c" stroke-width="0.6"/>
<line x1="281.09" y1="322.04" x2="276.78" y2="318.50" stroke="#8b8e3c" stroke-width="0.6"/>
<line x1="284.39" y1="320.28" x2="280.09" y2="316.75" stroke="#90820e" stroke-width="0.6"/>
<line x1="299.38" y1="311.57" x2="295.14" y2="308.12" stroke="#928205" stroke-width="0.6"/>
<line x1="304.89" y1="308.96" x2="300.67" y2="305.54" stroke="#908f21" stroke-width="0.6"/>
<line x1="311.11" y1="306.04" x2="306.90" y2="302.65" stroke="#8b8e4a" stroke-width="0.6"/>
<line x1="322.68" y1="304.10" x2="318.42" y2="300.76" stroke="#8b8e40" stroke-width="0.6"/>
<line x1="328.59" y1="300.41" x2="324.30" y2="297.10" stroke="#907213" stroke-width="0.6"/>
<line x1="332.29" y1="298.01" x2="327.99" y2="294.71" stroke="#924300" stroke-width="0.6"/>
<line x1="337.90" y1="294.38" x2="333.57" y2="291.11" stroke="#925600" stroke-width="0.6"/>
<line x1="340.31" y1="292.83" x2="335.96" y2="289.58" stroke="#90850a" stroke-width="0.6"/>
<line x1="344.92" y1="290.39" x2="340.56" y2="287.16" stroke="#908f0e" stroke-width="0.6"/>
<line x1="349.65" y1="288.63" x2="345.26" y2="285.42" stroke="#918f11" stroke-width="0.6"/>
<line x1="379.51" y1="273.70" x2="374.98" y2="270.62" stroke="#8f8f20" stroke-width="0.6"/>
<line x1="403.28" y1="264.15" x2="398.64" y2="261.18" stroke="#8e8f21" stroke-width="0.6"/>
<line x1="420.12" y1="256.59" x2="415.40" y2="253.70" stroke="#8e8f24" stroke-width="0.6"/>
<line x1="425.87" y1="254.97" x2="421.13" y2="252.11" stroke="#8b8e37" stroke-width="0.6"/>
<line x1="447.48" y1="247.41" x2="442.63" y2="244.66" stroke="#8c8e30" stroke-width="0.6"/>
<line x1="460.66" y1="242.28" x2="455.75" y2="239.59" stroke="#8f8f21" stroke-width="0.6"/>
<line x1="470.41" y1="238.48" x2="465.45" y2="235.83" stroke="#8b8e34" stroke-width="0.6"/>
<line x1="493.38" y1="230.85" x2="488.33" y2="228.27" stroke="#8a8d39" stroke-width="0.6"/>
<line x1="525.45" y1="219.12" x2="520.27" y2="216.58" stroke="#8c8e30" stroke-width="0.6"/>
<line x1="559.32" y1="206.55" x2="554.00" y2="204.05" stroke="#8b8e39" stroke-width="0.6"/>
<line x1="593.45" y1="194.93" x2="587.98" y2="192.47" stroke="#898e39" stroke-width="0.6"/>
<line x1="605.93" y1="190.49" x2="600.42" y2="188.04" stroke="#8a8e37" stroke-width="0.6"/>
<line x1="622.61" y1="185.16" x2="617.03" y2="182.73" stroke="#878c46" stroke-width="0.6"/>
<line x1="637.36" y1="180.09" x2="631.72" y2="177.69" stroke="#878c46" stroke-width="0.6"/>
<line x1="648.54" y1="176.28" x2="642.85" y2="173.89" stroke="#878c4a" stroke-width="0.6"/>
<line x1="684.07" y1="166.77" x2="678.24" y2="164.42" stroke="#868c50" stroke-width="0.6"/>
<line x1="722.77" y1="155.18" x2="716.78" y2="152.88" stroke="#888d44" stroke-width="0.6"/>
<line x1="732.21" y1="152.83" x2="726.20" y2="150.52" stroke="#8a8e37" stroke-width="0.6"/>
<line x1="748.68" y1="147.27" x2="742.63" y2="144.96" stroke="#8a8e37" stroke-width="0.6"/>
<line x1="763.94" y1="141.94" x2="757.86" y2="139.63" stroke="#888d46" stroke-width="0.6"/>
<line x1="793.60" y1="133.03" x2="787.46" y2="130.70" stroke="#888d43" stroke-width="0.6"/>
<line x1="806.92" y1="128.59" x2="800.75" y2="126.26" stroke="#898e3e" stroke-width="0.6"/>
<line x1="818.47" y1="125.12" x2="812.27" y2="122.79" stroke="#878d4c" stroke-width="0.6"/>
<line x1="827.83" y1="123.00" x2="821.61" y2="120.65" stroke="#628b41" stroke-width="0.6"/>
<line x1="847.10" y1="119.83" x2="840.84" y2="117.48" stroke="#548b3a" stroke-width="0.6"/>
<line x1="884.34" y1="111.35" x2="878.01" y2="108.99" stroke="#778c50" stroke-width="0.6"/>
<line x1="946.23" y1="96.06" x2="939.76" y2="93.67" stroke="#6a8c48" stroke-width="0.6"/>
<line x1="953.42" y1="94.87" x2="946.94" y2="92.48" stroke="#3c882b" stroke-width="0.6"/>
<line x1="74.8" y1="350.2" x2="77.4" y2="404.7" stroke="#777" stroke-width="1.35"/>
<text x="74.40" y="339.20" font-size="10.50" text-anchor="middle" textLength="24.97" lengthAdjust="spacingAndGlyphs" fill="#111" stroke="#111" stroke-width="0.22">7.1%</text>
<text x="74.40" y="348.60" font-size="10.50" text-anchor="middle" textLength="22.10" lengthAdjust="spacingAndGlyphs" fill="#111" stroke="#111" stroke-width="0.22">38m</text>
<line x1="135.3" y1="322.5" x2="137.6" y2="375.8" stroke="#777" stroke-width="1.35"/>
<text x="135.00" y="311.60" font-size="10.50" text-anchor="middle" textLength="31.36" lengthAdjust="spacingAndGlyphs" fill="#111" stroke="#111" stroke-width="0.22">11.0%</text>
<text x="135.00" y="321.00" font-size="10.50" text-anchor="middle" textLength="22.22" lengthAdjust="spacingAndGlyphs" fill="#111" stroke="#111" stroke-width="0.22">22m</text>
<line x1="259.3" y1="276.4" x2="260.1" y2="328.4" stroke="#777" stroke-width="1.35"/>
<text x="259.30" y="265.50" font-size="10.50" text-anchor="middle" textLength="31.32" lengthAdjust="spacingAndGlyphs" fill="#111" stroke="#111" stroke-width="0.22">12.8%</text>
<text x="259.30" y="274.90" font-size="10.50" text-anchor="middle" textLength="22.15" lengthAdjust="spacingAndGlyphs" fill="#111" stroke="#111" stroke-width="0.22">13m</text>
<line x1="330.6" y1="244.7" x2="332.0" y2="295.9" stroke="#777" stroke-width="1.35"/>
<text x="330.70" y="233.10" font-size="10.50" text-anchor="middle" textLength="31.32" lengthAdjust="spacingAndGlyphs" fill="#111" stroke="#111" stroke-width="0.22">12.5%</text>
<text x="330.70" y="242.50" font-size="10.50" text-anchor="middle" textLength="22.22" lengthAdjust="spacingAndGlyphs" fill="#111" stroke="#111" stroke-width="0.22">27m</text>
<line x1="407.5" y1="209.3" x2="407.7" y2="261.2" stroke="#777" stroke-width="1.35"/>
<text x="406.80" y="198.90" font-size="10.50" text-anchor="middle" textLength="25.08" lengthAdjust="spacingAndGlyphs" fill="#111" stroke="#111" stroke-width="0.22">6.0%</text>
<text x="406.80" y="208.30" font-size="10.50" text-anchor="middle" textLength="22.26" lengthAdjust="spacingAndGlyphs" fill="#111" stroke="#111" stroke-width="0.22">85m</text>
<line x1="461.7" y1="189.8" x2="462.0" y2="239.8" stroke="#777" stroke-width="1.35"/>
<text x="461.70" y="178.70" font-size="10.50" text-anchor="middle" textLength="24.94" lengthAdjust="spacingAndGlyphs" fill="#111" stroke="#111" stroke-width="0.22">4.7%</text>
<text x="461.70" y="188.10" font-size="10.50" text-anchor="middle" textLength="22.10" lengthAdjust="spacingAndGlyphs" fill="#111" stroke="#111" stroke-width="0.22">54m</text>
<line x1="539.1" y1="163.0" x2="538.6" y2="213.5" stroke="#777" stroke-width="1.35"/>
<text x="538.80" y="151.40" font-size="10.50" text-anchor="middle" textLength="24.94" lengthAdjust="spacingAndGlyphs" fill="#111" stroke="#111" stroke-width="0.22">4.9%</text>
<text x="538.80" y="160.80" font-size="10.50" text-anchor="middle" textLength="28.45" lengthAdjust="spacingAndGlyphs" fill="#111" stroke="#111" stroke-width="0.22">177m</text>
<line x1="597.2" y1="142.7" x2="596.5" y2="192.8" stroke="#777" stroke-width="1.35"/>
<text x="597.00" y="131.80" font-size="10.50" text-anchor="middle" textLength="24.94" lengthAdjust="spacingAndGlyphs" fill="#111" stroke="#111" stroke-width="0.22">4.4%</text>
<text x="597.00" y="141.20" font-size="10.50" text-anchor="middle" textLength="22.16" lengthAdjust="spacingAndGlyphs" fill="#111" stroke="#111" stroke-width="0.22">72m</text>
<line x1="664.4" y1="123.2" x2="663.2" y2="172.5" stroke="#777" stroke-width="1.35"/>
<text x="664.30" y="111.60" font-size="10.50" text-anchor="middle" textLength="25.03" lengthAdjust="spacingAndGlyphs" fill="#111" stroke="#111" stroke-width="0.22">2.9%</text>
<text x="664.30" y="121.00" font-size="10.50" text-anchor="middle" textLength="28.45" lengthAdjust="spacingAndGlyphs" fill="#111" stroke="#111" stroke-width="0.22">197m</text>
<line x1="738.2" y1="101.1" x2="736.5" y2="150.4" stroke="#777" stroke-width="1.35"/>
<text x="738.20" y="90.10" font-size="10.50" text-anchor="middle" textLength="24.94" lengthAdjust="spacingAndGlyphs" fill="#111" stroke="#111" stroke-width="0.22">4.4%</text>
<text x="738.20" y="99.50" font-size="10.50" text-anchor="middle" textLength="28.45" lengthAdjust="spacingAndGlyphs" fill="#111" stroke="#111" stroke-width="0.22">101m</text>
<line x1="798.8" y1="82.2" x2="796.6" y2="131.1" stroke="#777" stroke-width="1.35"/>
<text x="798.60" y="71.90" font-size="10.50" text-anchor="middle" textLength="24.94" lengthAdjust="spacingAndGlyphs" fill="#111" stroke="#111" stroke-width="0.22">4.0%</text>
<text x="798.60" y="81.30" font-size="10.50" text-anchor="middle" textLength="22.26" lengthAdjust="spacingAndGlyphs" fill="#111" stroke="#111" stroke-width="0.22">80m</text>
<text x="55.20" y="436.13" font-size="10.50" text-anchor="middle" textLength="21.59" lengthAdjust="spacingAndGlyphs" fill="#111" stroke="#111" stroke-width="0.22">0km</text>
<text x="110.90" y="426.72" font-size="10.50" text-anchor="middle" textLength="37.49" lengthAdjust="spacingAndGlyphs" fill="#111" stroke="#111" stroke-width="0.22">0.25km</text>
<text x="166.00" y="418.70" font-size="10.50" text-anchor="middle" textLength="31.13" lengthAdjust="spacingAndGlyphs" fill="#111" stroke="#111" stroke-width="0.22">0.5km</text>
<text x="219.00" y="410.99" font-size="10.50" text-anchor="middle" textLength="37.49" lengthAdjust="spacingAndGlyphs" fill="#111" stroke="#111" stroke-width="0.22">0.75km</text>
<text x="271.30" y="403.38" font-size="10.50" text-anchor="middle" textLength="21.54" lengthAdjust="spacingAndGlyphs" fill="#111" stroke="#111" stroke-width="0.22">1km</text>
<text x="322.80" y="395.89" font-size="10.50" text-anchor="middle" textLength="37.44" lengthAdjust="spacingAndGlyphs" fill="#111" stroke="#111" stroke-width="0.22">1.25km</text>
<text x="372.40" y="388.67" font-size="10.50" text-anchor="middle" textLength="31.08" lengthAdjust="spacingAndGlyphs" fill="#111" stroke="#111" stroke-width="0.22">1.5km</text>
<text x="422.20" y="381.43" font-size="10.50" text-anchor="middle" textLength="37.44" lengthAdjust="spacingAndGlyphs" fill="#111" stroke="#111" stroke-width="0.22">1.75km</text>
<text x="469.50" y="374.54" font-size="10.50" text-anchor="middle" textLength="21.61" lengthAdjust="spacingAndGlyphs" fill="#111" stroke="#111" stroke-width="0.22">2km</text>
<text x="516.30" y="367.74" font-size="10.50" text-anchor="middle" textLength="37.51" lengthAdjust="spacingAndGlyphs" fill="#111" stroke="#111" stroke-width="0.22">2.25km</text>
<text x="562.00" y="361.09" font-size="10.50" text-anchor="middle" textLength="31.14" lengthAdjust="spacingAndGlyphs" fill="#111" stroke="#111" stroke-width="0.22">2.5km</text>
<text x="607.20" y="354.51" font-size="10.50" text-anchor="middle" textLength="37.51" lengthAdjust="spacingAndGlyphs" fill="#111" stroke="#111" stroke-width="0.22">2.75km</text>
<text x="650.90" y="348.15" font-size="10.50" text-anchor="middle" textLength="21.49" lengthAdjust="spacingAndGlyphs" fill="#111" stroke="#111" stroke-width="0.22">3km</text>
<text x="694.80" y="341.76" font-size="10.50" text-anchor="middle" textLength="37.39" lengthAdjust="spacingAndGlyphs" fill="#111" stroke="#111" stroke-width="0.22">3.25km</text>
<text x="736.90" y="335.64" font-size="10.50" text-anchor="middle" textLength="31.03" lengthAdjust="spacingAndGlyphs" fill="#111" stroke="#111" stroke-width="0.22">3.5km</text>
<text x="778.80" y="329.54" font-size="10.50" text-anchor="middle" textLength="37.39" lengthAdjust="spacingAndGlyphs" fill="#111" stroke="#111" stroke-width="0.22">3.75km</text>
<text x="819.20" y="323.66" font-size="10.50" text-anchor="middle" textLength="21.51" lengthAdjust="spacingAndGlyphs" fill="#111" stroke="#111" stroke-width="0.22">4km</text>
<text x="859.00" y="317.87" font-size="10.50" text-anchor="middle" textLength="37.41" lengthAdjust="spacingAndGlyphs" fill="#111" stroke="#111" stroke-width="0.22">4.25km</text>
<text x="898.30" y="312.15" font-size="10.50" text-anchor="middle" textLength="31.05" lengthAdjust="spacingAndGlyphs" fill="#111" stroke="#111" stroke-width="0.22">4.5km</text>
<text x="937.00" y="306.52" font-size="10.50" text-anchor="middle" textLength="37.41" lengthAdjust="spacingAndGlyphs" fill="#111" stroke="#111" stroke-width="0.22">4.75km</text>
<rect x="1001.8" y="374.8" width="12.8" height="128" fill="url(#lg)"/>
<text x="994.90" y="379.30" font-size="12.20" text-anchor="end" textLength="24.09" lengthAdjust="spacingAndGlyphs" fill="#111" stroke="#111" stroke-width="0.22">25%</text>
<text x="994.90" y="418.20" font-size="12.20" text-anchor="end" textLength="24.00" lengthAdjust="spacingAndGlyphs" fill="#111" stroke="#111" stroke-width="0.22">10%</text>
<text x="994.90" y="443.30" font-size="12.20" text-anchor="end" textLength="17.00" lengthAdjust="spacingAndGlyphs" fill="#111" stroke="#111" stroke-width="0.22">0%</text>
<text x="994.90" y="469.20" font-size="12.20" text-anchor="end" textLength="28.24" lengthAdjust="spacingAndGlyphs" fill="#111" stroke="#111" stroke-width="0.22">-10%</text>
<text x="994.90" y="507.00" font-size="12.20" text-anchor="end" textLength="28.24" lengthAdjust="spacingAndGlyphs" fill="#111" stroke="#111" stroke-width="0.22">-25%</text>
<polygon points="4.90,469.70 15.80,469.70 24.00,484.50 31.60,469.70 42.80,469.70 25.30,503.20 22.90,503.20" fill="#000"/>
<ellipse cx="51.55" cy="486.6" rx="16.65" ry="17.6" fill="#000"/>
<path d="M46.20,483.1 A6.05,5.4 0 0 1 58.30,483.1 Z" fill="#fff"/>
<polygon points="46.20,489.00 70.90,489.00 70.90,500.00 68.20,497.60 61.50,492.50 57.70,494.60 53.30,495.30 49.40,494.20 46.70,491.60" fill="#fff"/>
<rect x="68.9" y="455.3" width="11.5" height="48.1" fill="#000"/>
<circle cx="97.7" cy="486.6" r="17.6" fill="#000"/><circle cx="98.3" cy="486.9" r="7.4" fill="#fff"/>
<polygon points="105.60,469.20 118.40,469.70 126.60,484.50 126.60,503.60 124.50,504.00" fill="#fff"/>
<polygon points="107.50,469.70 118.40,469.70 126.60,484.50 134.20,469.70 145.40,469.70 127.80,503.30 125.40,503.30" fill="#ff0a37"/>
<rect x="143.3" y="469.7" width="11.6" height="33.8" fill="#ff0a37"/><circle cx="149.1" cy="461.2" r="5.9" fill="#ff0a37"/>
<ellipse cx="171.95" cy="486.6" rx="16.65" ry="17.6" fill="#ff0a37"/>
<path d="M166.60,483.1 A6.05,5.4 0 0 1 178.70,483.1 Z" fill="#fff"/>
<polygon points="166.60,489.00 191.30,489.00 191.30,500.00 188.60,497.60 181.90,492.50 178.10,494.60 173.70,495.30 169.80,494.20 167.10,491.60" fill="#fff"/>
<polygon points="183.10,469.90 194.40,469.90 198.60,485.50 201.10,469.90 213.70,469.90 219.30,486.30 223.60,469.90 234.60,469.90 224.90,503.80 214.30,503.80 208.80,487.80 203.60,503.80 193.30,503.80" fill="#ff0a37"/>
<ellipse cx="246.25" cy="486.6" rx="16.65" ry="17.6" fill="#ff0a37"/>
<path d="M240.90,483.1 A6.05,5.4 0 0 1 253.00,483.1 Z" fill="#fff"/>
<polygon points="240.90,489.00 265.60,489.00 265.60,500.00 262.90,497.60 256.20,492.50 252.40,494.60 248.00,495.30 244.10,494.20 241.40,491.60" fill="#fff"/>
<path d="M263,469.4 H274.7 V476 Q276.5,469.4 285.2,469.2 V481.6 Q277.6,481.4 274.7,490 V503.6 H263 Z" fill="#ff0a37"/>
<path d="M321.6,488.6 C319.8,486.6 317.2,486.6 314.2,486.6 C310.6,486.6 308.9,487.9 308.9,490 C308.9,492.4 311.6,493 314.6,493.7 C318.2,494.5 320.9,495.1 320.9,497.6 C320.9,499.9 318.4,500.9 314.2,500.9 C310.6,500.9 308.1,499.9 306.5,498.2" fill="none" stroke="#fc4c02" stroke-width="5.6"/>
<rect x="323.4" y="484" width="18" height="5.4" fill="#fc4c02"/><rect x="329.1" y="484" width="6.2" height="19.4" fill="#fc4c02"/>
<path d="M342.1,484.2 H353.5 C358.6,484.2 360.2,487.2 360.2,490.2 C360.2,492.8 358.8,494.8 356.4,495.6 L360.8,503.2 H353.6 L350,496.5 H348.8 V503.2 H342.1 Z M348.8,488.8 V493 H352.6 C354,493 354.8,492 354.8,490.9 C354.8,489.7 354,488.8 352.6,488.8 Z" fill="#fc4c02" fill-rule="evenodd"/>
<polygon points="369.50,483.20 379.40,503.20 373.00,503.20 369.50,495.30 366.00,503.20 359.70,503.20" fill="#fc4c02"/>
<polygon points="373.90,484.20 380.20,484.20 383.60,492.30 387.10,484.20 393.60,484.20 383.60,503.90" fill="#fc4c02"/>
<polygon points="398.40,483.20 408.30,503.20 401.90,503.20 398.40,495.30 394.90,503.20 388.60,503.20" fill="#fc4c02"/>
<text x="305.8" y="476.8" font-size="9.5" textLength="68.8" lengthAdjust="spacing" fill="#1a1a1a" stroke="#1a1a1a" stroke-width="0.2">POWERED BY</text>
</svg>
</body></html>
